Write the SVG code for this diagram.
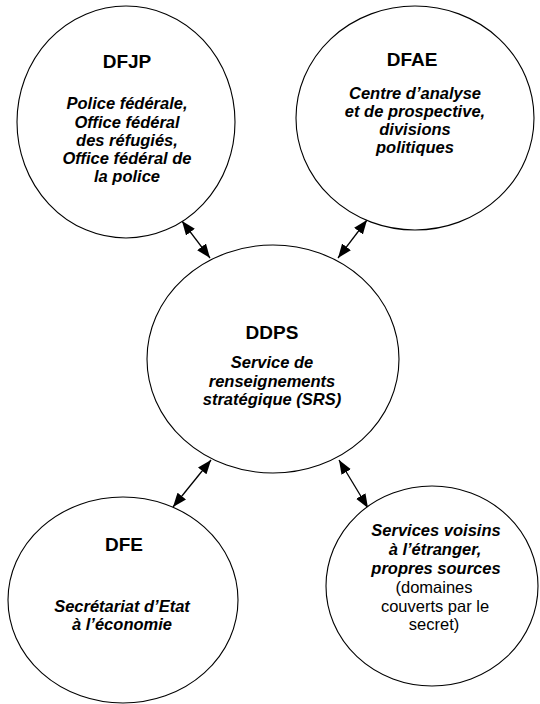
<svg xmlns="http://www.w3.org/2000/svg" width="540" height="704" viewBox="0 0 540 704">
<style>
.node{fill:#fff;stroke:#000;stroke-width:1.1}
.title{font-family:"Liberation Sans",Arial,sans-serif;font-weight:bold;font-size:19px;text-anchor:middle;fill:#000}
.sub{font-family:"Liberation Sans",Arial,sans-serif;font-weight:bold;font-style:italic;font-size:16.5px;text-anchor:middle;fill:#000}
.reg{font-family:"Liberation Sans",Arial,sans-serif;font-size:16.5px;text-anchor:middle;fill:#000}
.link{stroke:#000;stroke-width:1.3;fill:none;marker-start:url(#ah);marker-end:url(#ah)}
</style>
<defs>
<marker id="ah" viewBox="0 0 14 11" refX="14" refY="5.5" markerWidth="14" markerHeight="11" markerUnits="userSpaceOnUse" orient="auto-start-reverse">
<path d="M0,0 L14,5.5 L0,11 z" fill="#000"/>
</marker>
</defs>
<rect width="540" height="704" fill="#fff"/>
<g id="connectors">
<line class="link" x1="182" y1="221" x2="210" y2="258"/>
<line class="link" x1="367" y1="220" x2="338" y2="258"/>
<line class="link" x1="211" y1="460" x2="173" y2="507"/>
<line class="link" x1="339" y1="460" x2="368" y2="508"/>
</g>
<g id="dfjp">
<ellipse class="node" cx="126" cy="122" rx="109" ry="116"/>
<text class="title" x="127" y="68">DFJP</text>
<text class="sub" x="127" y="109">Police fédérale,</text>
<text class="sub" x="127" y="127.5">Office fédéral</text>
<text class="sub" x="127" y="146">des réfugiés,</text>
<text class="sub" x="127" y="164">Office fédéral de</text>
<text class="sub" x="127" y="182">la police</text>
</g>
<g id="dfae">
<ellipse class="node" cx="415" cy="118" rx="119" ry="112"/>
<text class="title" x="412" y="66">DFAE</text>
<text class="sub" x="415" y="99">Centre d’analyse</text>
<text class="sub" x="415" y="117">et de prospective,</text>
<text class="sub" x="415" y="135">divisions</text>
<text class="sub" x="415" y="153">politiques</text>
</g>
<g id="ddps">
<ellipse class="node" cx="273" cy="359" rx="126" ry="114"/>
<text class="title" x="272" y="339">DDPS</text>
<text class="sub" x="272" y="368">Service de</text>
<text class="sub" x="272" y="386.5">renseignements</text>
<text class="sub" x="272" y="405">stratégique (SRS)</text>
</g>
<g id="dfe">
<ellipse class="node" cx="123" cy="600" rx="115" ry="103"/>
<text class="title" x="124" y="551">DFE</text>
<text class="sub" x="122" y="612">Secrétariat d’Etat</text>
<text class="sub" x="122" y="630">à l’économie</text>
</g>
<g id="services">
<ellipse class="node" cx="432" cy="586" rx="106" ry="100"/>
<text class="sub" x="436" y="536">Services voisins</text>
<text class="sub" x="435" y="555">à l’étranger,</text>
<text class="sub" x="436" y="573.5">propres sources</text>
<text class="reg" x="434" y="592.5">(domaines</text>
<text class="reg" x="435" y="611.5">couverts par le</text>
<text class="reg" x="434" y="630">secret)</text>
</g>
</svg>
